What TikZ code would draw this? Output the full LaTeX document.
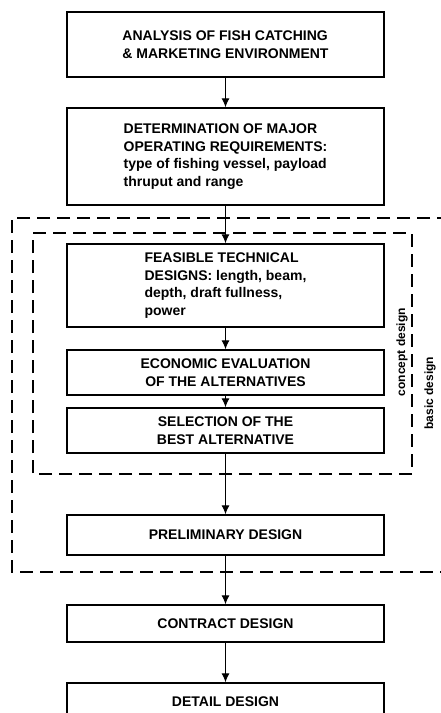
\documentclass[tikz,border=0pt]{standalone}
\usepackage{fontspec}
\setmainfont{Liberation Sans}
\usepackage{tikz}
\usetikzlibrary{arrows}
\usetikzlibrary{arrows.meta}
\tikzset{>=latex}
\tikzstyle{stage} = [draw, line width = 1.3pt, minimum width = 317pt, inner sep = 0, align = left, font = \fontsize{14}{17.5}\selectfont\bfseries]
\tikzstyle{frame} = [line width = 1.3pt, dash pattern = on 13pt off 7pt]
\tikzstyle{flow} = [-{Latex[length = 9pt, width = 8pt]}, line width = 1.2pt]
\tikzstyle{side} = [draw=none, rotate = 90, font = \fontsize{12}{14}\selectfont\bfseries]

\begin{document}
\begin{tikzpicture}[x = 1pt, y = -1pt]
\useasboundingbox (0, 0) rectangle (440, 713);
\node [stage, minimum height = 65pt] (A) at (225.5, 44.5) {ANALYSIS OF FISH CATCHING\\\& MARKETING ENVIRONMENT};
\node [stage, minimum height = 97pt] (R) at (225.5, 156.5) {DETERMINATION OF MAJOR\\OPERATING REQUIREMENTS:\\type of fishing vessel, payload\\thruput and range};
\node [stage, minimum height = 83pt] (F) at (225.5, 285.5) {FEASIBLE TECHNICAL\\DESIGNS: length, beam,\\depth, draft fullness,\\power};
\node [stage, minimum height = 45pt, align = center] (E) at (225.5, 372.5) {ECONOMIC EVALUATION\\OF THE ALTERNATIVES};
\node [stage, minimum height = 45pt, align = center] (S) at (225.5, 430.5) {SELECTION OF THE\\BEST ALTERNATIVE};
\node [stage, minimum height = 40pt] (P) at (225.5, 535) {PRELIMINARY DESIGN};
\node [stage, minimum height = 37pt] (C) at (225.5, 623.5) {CONTRACT DESIGN};
\node [stage, minimum height = 38pt] (D) at (225.5, 702) {DETAIL DESIGN};
% design phases
\draw [frame] (33, 233) -- (412, 233) -- (412, 474) -- (33, 474) -- cycle;
\draw [frame] (450, 218) -- (12, 218) -- (12, 572) -- (450, 572);
\node [side] (cd) at (402, 352) {concept design};
\node [side] (bd) at (430, 393) {basic design};
\draw [flow] (A) to (R);
\draw [flow] (R) to (F);
\draw [flow] (F) to (E);
\draw [flow] (E) to (S);
\draw [flow] (S) to (P);
\draw [flow] (P) to (C);
\draw [flow] (C) to (D);
\end{tikzpicture}
\end{document}
